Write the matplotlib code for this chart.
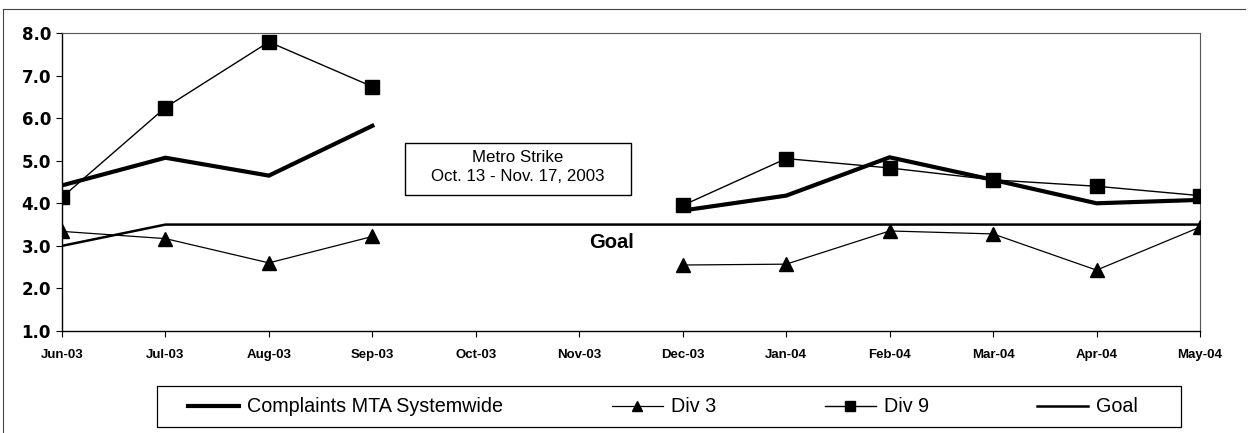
import numpy as np
import matplotlib
matplotlib.use("Agg")
import matplotlib.pyplot as plt
from matplotlib.lines import Line2D
from matplotlib.patches import Rectangle

months = ["Jun-03", "Jul-03", "Aug-03", "Sep-03", "Oct-03", "Nov-03",
          "Dec-03", "Jan-04", "Feb-04", "Mar-04", "Apr-04", "May-04"]
nan = np.nan
systemwide = [4.42, 5.07, 4.65, 5.82, nan, nan, 3.83, 4.18, 5.08, 4.55, 4.00, 4.08]
div3 = [3.34, 3.17, 2.60, 3.22, nan, nan, 2.55, 2.57, 3.35, 3.28, 2.43, 3.44]
div9 = [4.14, 6.25, 7.79, 6.74, nan, nan, 3.95, 5.05, 4.83, 4.55, 4.40, 4.18]
goal = [3.0, 3.5, 3.5, 3.5, 3.5, 3.5, 3.5, 3.5, 3.5, 3.5, 3.5, 3.5]

plt.rcParams['font.family'] = ['Liberation Sans', 'DejaVu Sans']

W, H = 1250, 433
fig = plt.figure(figsize=(W/100, H/100), dpi=100)
ax = fig.add_axes([62/W, 1 - 331/H, (1200-62)/W, (331-33)/H])

x = np.arange(len(months))
l_sys, = ax.plot(x, systemwide, color='black', lw=3.0, solid_joinstyle='miter',
                 label='Complaints MTA Systemwide', zorder=4)
l_d3, = ax.plot(x, div3, color='black', lw=0.9, marker='^', markersize=9.5,
                label='Div 3', zorder=5)
l_d9, = ax.plot(x, div9, color='black', lw=1.0, marker='s', markersize=10,
                label='Div 9', zorder=5)
l_goal, = ax.plot(x, goal, color='black', lw=1.8, label='Goal', zorder=3)

ax.set_xlim(0, len(months) - 1)
ax.set_ylim(1.0, 8.0)
ax.set_yticks(np.arange(1, 9, 1.0))
ax.set_yticklabels([f"{v:.1f}" for v in np.arange(1, 9, 1.0)],
                   fontsize=12, fontweight='bold', family='DejaVu Sans')
ax.set_xticks(x)
ax.set_xticklabels(months, fontsize=9.5, fontweight='bold',
                   family=['Liberation Sans Narrow', 'Liberation Sans'])
ax.tick_params(axis='both', direction='out', length=4, width=0.8, color='black')
ax.tick_params(axis='x', pad=9)
ax.tick_params(axis='y', pad=4)

for side in ['top', 'right']:
    ax.spines[side].set_color('#555555')
    ax.spines[side].set_linewidth(0.8)
    ax.spines[side].set_linestyle((0, (2, 0.6)))
for side in ['left', 'bottom']:
    ax.spines[side].set_color('black')
    ax.spines[side].set_linewidth(1.0)

ax.text(5.31, 3.08, 'Goal', fontsize=14.5, fontweight='bold', ha='center', va='center')

# strike annotation box
fig.patches.append(Rectangle((405/W, 1 - 195/H), (631-405)/W, (195-143)/H,
                             transform=fig.transFigure, fc='white', ec='black',
                             lw=1.0, zorder=6))
fig.text(518/W, 1 - 167/H, 'Metro Strike\nOct. 13 - Nov. 17, 2003', fontsize=12.2,
         ha='center', va='center', linespacing=1.4, zorder=7)

# legend
leg = fig.legend(handles=[l_sys, l_d3, l_d9, l_goal], loc='center left',
                 bbox_to_anchor=(188/W, 1 - 407/H), ncol=4, frameon=False,
                 fontsize=14.2, borderpad=0, borderaxespad=0,
                 handlelength=2.6, handletextpad=0.4, columnspacing=5.5,
                 markerscale=0.75)
fig.patches.append(Rectangle((157/W, 1 - 427/H), (1181-157)/W, (427-386)/H,
                             transform=fig.transFigure, fill=False, ec='black',
                             lw=0.9))

# outer figure border (top and left edges visible)
fig.add_artist(Line2D([3/W, 1245/W], [1 - 9/H, 1 - 9/H],
                      transform=fig.transFigure, color='#444444', lw=0.8))
fig.add_artist(Line2D([3/W, 3/W], [0, 1 - 9/H],
                      transform=fig.transFigure, color='#444444', lw=0.8))

fig.savefig('out.png', dpi=100)
